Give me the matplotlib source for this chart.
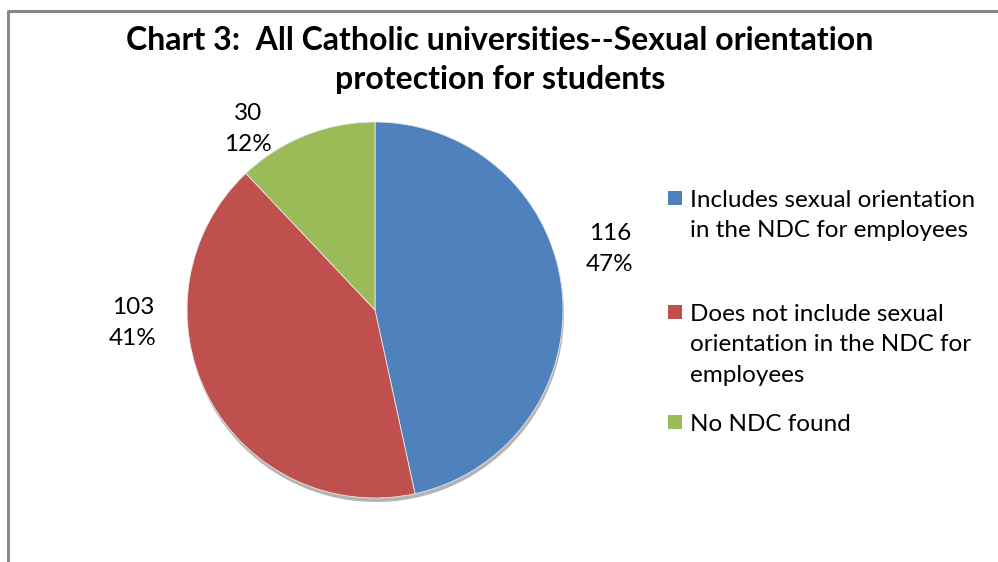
import matplotlib.pyplot as plt
from matplotlib.patches import Rectangle, Circle

plt.rcParams['font.family'] = ['Lato', 'DejaVu Sans']

categories = [
    'Includes sexual orientation\nin the NDC for employees',
    'Does not include sexual\norientation in the NDC for\nemployees',
    'No NDC found',
]
counts = [116, 103, 30]
colors = ['#4F81BD', '#C0504D', '#9BBB59']
title = 'Chart 3:  All Catholic universities--Sexual orientation\nprotection for students'

W, H = 998, 562
fig = plt.figure(figsize=(W / 100, H / 100), dpi=100)
ax = fig.add_axes([0, 0, 1, 1])

# chart frame (only top and left edges show)
ax.plot([8, 8, W], [0, H - 11, H - 11], color='#878787', lw=2.2, solid_capstyle='butt')

cx, cy, r = 375, H - 310, 188
# soft shadow under the pie
ax.add_patch(Circle((cx + 1, cy - 4), r, color='#5a5a5a', alpha=0.45, lw=0))
wedges, _ = ax.pie(counts, colors=colors, startangle=90, counterclock=False,
                   center=(cx, cy), radius=r, frame=True,
                   wedgeprops=dict(linewidth=0.6, edgecolor='#e8e8e8'))
ax.set_xlim(0, W)
ax.set_ylim(0, H)
ax.set_aspect('equal')
ax.axis('off')

total = sum(counts)
label_pos = [(610, H - 249), (133, H - 323), (248, H - 129)]
for n, (lx, ly) in zip(counts, label_pos):
    ax.text(lx, ly, f'{n}\n{n / total:.0%}', ha='center', va='center',
            fontsize=17.5, linespacing=1.6, color='black')

ax.text(500, H - 60, title, ha='center', va='center', fontsize=23,
        fontweight='bold', linespacing=1.45)

# legend entries
legend_y = [H - 198, H - 312, H - 422]
for lab, col, ly in zip(categories, colors, legend_y):
    ax.add_patch(Rectangle((668, ly - 7), 14, 14, color=col, lw=0))
    ax.text(690, ly + 8, lab, ha='left', va='top', fontsize=17.5,
            linespacing=1.55, color='black')

fig.savefig('out.png', dpi=100)
